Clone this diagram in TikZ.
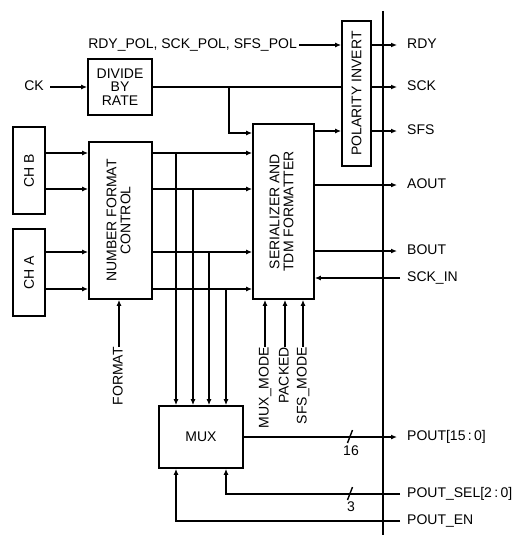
\documentclass[tikz,border=0pt]{standalone}
\usepackage{fontspec}
\setmainfont{Liberation Sans}
\usepackage{graphicx}
\usetikzlibrary{arrows.meta, positioning}
\newcommand{\diagfont}{\fontsize{14}{13.8}\selectfont}
\tikzset{
    box/.style={
        draw=black,
        line width=1.7pt,
        fill=white,
        inner sep=0pt,
        align=center,
        font=\diagfont
    },
    wire/.style={
        line width=1.4pt,
        black
    },
    arrow/.style={
        wire,
        -{Latex[length=6pt,width=5pt]}
    },
    bus/.style={
        line width=2pt,
        black
    },
    lbl/.style={
        inner sep=0pt,
        font=\diagfont,
        text height=1.38ex,
        text depth=0pt
    },
    outlbl/.style={lbl, anchor=west},
    vlbl/.style={lbl, rotate=90, anchor=east}
}

\begin{document}
\begin{tikzpicture}[x=1pt, y=-1pt]
        \useasboundingbox (0,0) rectangle (513,535);

        % Blocks
        \node[box, minimum width=64pt, minimum height=56pt] (divide) at (120,87) {DIVIDE\\BY\\RATE};
        \node[box, minimum width=29pt, minimum height=145pt] (polinv) at (356.5,93.5) {\rotatebox{90}{POLARITY INVERT}};
        \node[box, minimum width=32pt, minimum height=87pt] (chb) at (29,170.5) {\rotatebox{90}{CH B}};
        \node[box, minimum width=32pt, minimum height=87pt] (cha) at (29,272.5) {\rotatebox{90}{CH A}};
        \node[box, minimum width=63pt, minimum height=157pt] (nfc) at (120.5,220.5) {\rotatebox{90}{\begin{tabular}{@{}c@{}}NUMBER FORMAT\\CONTROL\end{tabular}}};
        \node[box, minimum width=61pt, minimum height=175pt] (ser) at (283.5,211.5) {\rotatebox{90}{\begin{tabular}{@{}c@{}}SERIALIZER AND\\TDM FORMATTER\end{tabular}}};
        \node[box, minimum width=84pt, minimum height=62pt] (mux) at (201,437) {MUX};

        % Input labels
        \node[lbl, anchor=east] (ck) at (44,87) {CK};
        \node[lbl, anchor=east] (pol) at (297,45) {RDY\_POL, SCK\_POL, SFS\_POL};
        \node[vlbl] (fmt) at (119,347) {FORMAT};
        \node[vlbl] (muxmode) at (265,347) {MUX\_MODE};
        \node[vlbl] (packed) at (285,347) {PACKED};
        \node[vlbl] (sfsmode) at (303,347) {SFS\_MODE};

        % Output labels
        \node[outlbl] (rdy) at (407,45) {RDY};
        \node[outlbl] (sck) at (407,87) {SCK};
        \node[outlbl] (sfs) at (407,131) {SFS};
        \node[outlbl] (aout) at (407,185) {AOUT};
        \node[outlbl] (bout) at (407,251) {BOUT};
        \node[outlbl] (sckin) at (407,278) {SCK\_IN};
        \node[outlbl] (pout) at (407,437) {POUT[15\,:\,0]};
        \node[outlbl] (poutsel) at (407,494) {POUT\_SEL[2\,:\,0]};
        \node[outlbl] (pouten) at (407,521) {POUT\_EN};

        % Bus line
        \coordinate (bustop) at (383,11);
        \coordinate (busbot) at (383,535);
        \draw[bus] (bustop) -- (busbot);

        % Clock path
        \draw[arrow, shorten <=6pt] (ck.east) -- (divide.west |- ck.east);
        \draw[wire] (divide.east |- sck.west) -- (polinv.west |- sck.west);
        \coordinate (ckbr) at (229,87);
        \draw[arrow] (ckbr) |- (ser.west |- 0,133);
        \draw[arrow, shorten <=2pt] (pol.east) -- (polinv.west |- pol.east);
        \draw[arrow] (ser.east |- sfs.west) -- (polinv.west |- sfs.west);

        % Outputs through the bus
        \foreach \n in {rdy,sck,sfs}
            \draw[arrow, shorten >=10pt] (polinv.east |- \n.west) -- (\n.west);
        \foreach \n in {aout,bout}
            \draw[arrow, shorten >=10pt] (ser.east |- \n.west) -- (\n.west);
        \draw[arrow, shorten <=7pt] (sckin.west) -- (ser.east |- sckin.west);

        % Channel data
        \foreach \src/\y in {chb/153, chb/189, cha/252, cha/289} {
            \draw[arrow] (\src.east |- 0,\y) -- (nfc.west |- 0,\y);
            \draw[arrow] (nfc.east |- 0,\y) -- (ser.west |- 0,\y);
        }
        \foreach \x/\y in {176/153, 193/189, 209/252, 226/289}
            \draw[arrow] (\x,\y) -- (mux.north -| \x,0);

        % Mode inputs
        \draw[arrow] (fmt.east) -- (nfc.south -| fmt.east);
        \foreach \n in {muxmode,packed,sfsmode}
            \draw[arrow] (\n.east) -- (ser.south -| \n.east);

        % Parallel port
        \draw[arrow, shorten >=10pt] (mux.east) -- (pout.west);
        \draw[wire] (347.5,443) -- (352.5,430);
        \node[lbl] (w16) at (351,452) {16};
        \draw[arrow, shorten <=7pt] (poutsel.west) -| (mux.south -| 226,0);
        \draw[wire] (347.5,500) -- (352.5,487);
        \node[lbl] (w3) at (351,508) {3};
        \draw[arrow, shorten <=7pt] (pouten.west) -| (mux.south -| 176,0);
    \end{tikzpicture}
\end{document}
